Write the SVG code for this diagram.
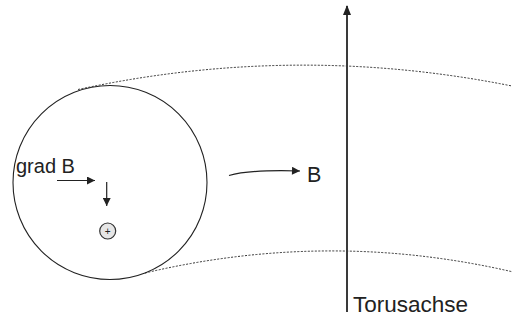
<svg xmlns="http://www.w3.org/2000/svg" width="512" height="321" viewBox="0 0 512 321">
<style>
.t{font-family:"Liberation Sans",Arial,sans-serif;fill:#222}
.dot{fill:none;stroke:#333;stroke-width:1;stroke-dasharray:2,1.5}
.ln{fill:none;stroke:#222;stroke-width:1.2}
</style>
<defs>
<marker id="ah" viewBox="0 0 10 10" refX="10" refY="5" markerWidth="11" markerHeight="8" markerUnits="userSpaceOnUse" orient="auto">
<path d="M0,0 L10,5 L0,10 Z" fill="#222"/>
</marker>
</defs>
<rect width="512" height="321" fill="#fff"/>
<g id="torus">
<path class="dot" d="M78,89.5 Q295,42.6 512,86"/>
<path class="dot" d="M145,273 Q329,229.5 512,271.7"/>
</g>
<g id="cross-section">
<circle cx="110" cy="182.5" r="97" fill="none" stroke="#222" stroke-width="1.1"/>
</g>
<g id="axis">
<line x1="347" y1="312" x2="347" y2="6" stroke="#3a3a3a" stroke-width="2"/>
<path d="M343,15 L347,5 L351,15 Z" fill="#222"/>
<text class="t" x="353" y="311.5" font-size="22.5">Torusachse</text>
</g>
<g id="particle">
<circle cx="107.7" cy="231" r="8" fill="#e6e6e6" stroke="#333" stroke-width="1.2"/>
<text class="t" x="107.7" y="234.5" font-size="10" text-anchor="middle">+</text>
</g>
<g id="labels">
<text class="t" x="16" y="173" font-size="20">grad B</text>
<text class="t" x="307" y="182" font-size="21.5">B</text>
</g>
<g id="connectors">
<line class="ln" x1="57" y1="180.5" x2="95" y2="180.5" marker-end="url(#ah)"/>
<line class="ln" x1="106.7" y1="182" x2="106.7" y2="206" marker-end="url(#ah)"/>
<path class="ln" d="M229,175.5 Q250,169.5 300,171" marker-end="url(#ah)"/>
</g>
</svg>
